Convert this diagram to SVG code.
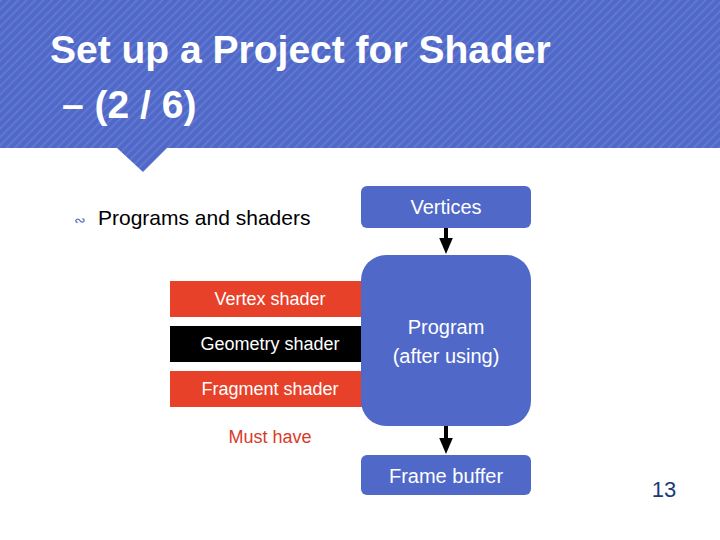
<svg xmlns="http://www.w3.org/2000/svg" width="720" height="540" viewBox="0 0 720 540">
<style>
text{font-family:"Liberation Sans",Arial,sans-serif}
.blue{fill:#5068c8}
.wt{fill:#fff;font-size:20px;text-anchor:middle}
.st{fill:#fff;font-size:18px;text-anchor:middle}
</style>
<defs>
<pattern id="hatch" width="6" height="6" patternUnits="userSpaceOnUse" patternTransform="rotate(45)">
<rect width="6" height="6" fill="#5068c8"/><rect width="2" height="6" fill="#6078d0"/>
</pattern>
<marker id="ah" markerWidth="4" markerHeight="4" refX="2" refY="2" orient="auto" markerUnits="strokeWidth"><path d="M0,0.3 L4,2 L0,3.7Z" fill="#000"/></marker>
</defs>
<rect x="0" y="0" width="720" height="148" fill="url(#hatch)"/>
<path d="M117,148 L167,148 L143,172Z" fill="url(#hatch)"/>
<text x="50" y="63" fill="#fff" font-size="39" font-weight="bold">Set up a Project for Shader</text>
<text x="62" y="118" fill="#fff" font-size="39" font-weight="bold">– (2 / 6)</text>
<text x="74" y="225" fill="#5068c8" font-size="14">∾</text>
<text x="98" y="225" fill="#000" font-size="21">Programs and shaders</text>
<g id="connectors" stroke="#000" stroke-width="4">
<line x1="446" y1="228" x2="446" y2="246" marker-end="url(#ah)"/>
<line x1="446" y1="424" x2="446" y2="446" marker-end="url(#ah)"/>
</g>
<g id="vertices"><rect x="361" y="186" width="170" height="42" rx="6" class="blue"/><text x="446" y="214" class="wt">Vertices</text></g>
<g id="vertex"><rect x="170" y="281" width="192" height="36" fill="#e8412a"/><text x="270" y="305" class="st">Vertex shader</text></g>
<g id="geometry"><rect x="170" y="326" width="192" height="36" fill="#000"/><text x="270" y="350" class="st">Geometry shader</text></g>
<g id="fragment"><rect x="170" y="371" width="192" height="36" fill="#e8412a"/><text x="270" y="395" class="st">Fragment shader</text></g>
<g id="program"><rect x="361" y="255" width="170" height="171" rx="25" class="blue"/><text x="446" y="334" class="wt">Program</text><text x="446" y="363" class="wt">(after using)</text></g>
<g id="musthave"><text x="270" y="443" fill="#d83a28" font-size="18" text-anchor="middle">Must have</text></g>
<g id="framebuffer"><rect x="361" y="455" width="170" height="40" rx="6" class="blue"/><text x="446" y="483" class="wt">Frame buffer</text></g>
<text x="664" y="497" fill="#1a3a7a" font-size="22" text-anchor="middle">13</text>
</svg>
